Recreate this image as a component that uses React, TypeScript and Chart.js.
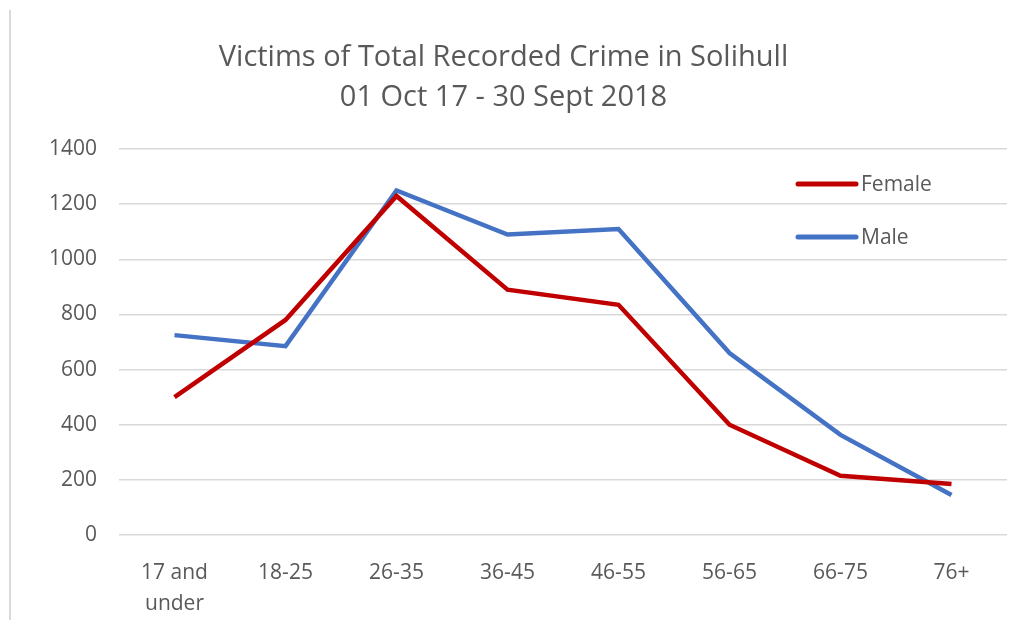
import React, { useEffect, useRef } from "react";
import { Chart, registerables } from "chart.js";

Chart.register(...registerables);

const categories: (string | string[])[] = [
  ["17 and", "under"],
  "18-25",
  "26-35",
  "36-45",
  "46-55",
  "56-65",
  "66-75",
  "76+",
];
const femaleValues = [500, 780, 1230, 890, 835, 400, 215, 185];
const maleValues = [725, 685, 1250, 1090, 1110, 660, 363, 145];
const seriesNames = ["Female", "Male"];
const seriesColors = ["#c00000", "#4472c4"];
const titleLines = ["Victims of Total Recorded Crime in Solihull", "01 Oct 17 - 30 Sept 2018"];

const FONT = "'Open Sans', 'DejaVu Sans', sans-serif";
const TEXT = "#595959";

const insideLegend = {
  id: "insideLegend",
  afterDatasetsDraw(chart: any) {
    const { ctx, chartArea } = chart;
    ctx.save();
    chart.data.datasets.forEach((ds: any, i: number) => {
      const y = chartArea.top + 35 + i * 53;
      const x0 = chartArea.right - 209;
      ctx.strokeStyle = ds.borderColor;
      ctx.lineWidth = 5;
      ctx.lineCap = "round";
      ctx.beginPath();
      ctx.moveTo(x0, y);
      ctx.lineTo(x0 + 58, y);
      ctx.stroke();
      ctx.fillStyle = TEXT;
      ctx.font = `21px ${FONT}`;
      ctx.textBaseline = "middle";
      ctx.textAlign = "left";
      ctx.fillText(ds.label, x0 + 63, y + 1);
    });
    ctx.restore();
  },
};

export default function App() {
  const ref = useRef<HTMLCanvasElement | null>(null);
  useEffect(() => {
    if (!ref.current) return;
    const chart = new Chart(ref.current, {
      type: "line",
      data: {
        labels: categories as any,
        datasets: [
          {
            label: seriesNames[0],
            data: femaleValues,
            borderColor: seriesColors[0],
            backgroundColor: seriesColors[0],
            borderWidth: 4.5,
            pointRadius: 0,
            tension: 0,
          },
          {
            label: seriesNames[1],
            data: maleValues,
            borderColor: seriesColors[1],
            backgroundColor: seriesColors[1],
            borderWidth: 4.5,
            pointRadius: 0,
            tension: 0,
          },
        ],
      },
      options: {
        animation: false,
        responsive: false,
        maintainAspectRatio: false,
        layout: { padding: { left: 0, right: 16, top: 38, bottom: 0 } },
        plugins: {
          legend: { display: false },
          tooltip: { enabled: false },
          title: {
            display: true,
            text: titleLines,
            color: TEXT,
            font: { family: FONT, size: 29, weight: "normal", lineHeight: 1.38 },
            padding: { top: 0, bottom: 31 },
          },
        },
        scales: {
          x: {
            offset: true,
            grid: { display: false, drawTicks: false },
            border: { display: false },
            ticks: {
              color: TEXT,
              font: { family: FONT, size: 21, lineHeight: 1.5 },
              padding: 22,
              maxRotation: 0,
              autoSkip: false,
            },
            afterFit(scale: any) {
              scale.height = 85;
            },
          },
          y: {
            min: 0,
            max: 1400,
            ticks: {
              stepSize: 200,
              color: TEXT,
              font: { family: FONT, size: 21 },
              padding: 22,
              callback: (v: any) => String(v),
            },
            grid: { color: "#d9d9d9", lineWidth: 1.5, drawTicks: false },
            border: { display: false },
            afterFit(scale: any) {
              scale.width = 119;
            },
          },
        },
      },
      plugins: [insideLegend],
    });
    return () => chart.destroy();
  }, []);
  return (
    <div style={{ position: "fixed", left: 0, top: 0, width: 1023, height: 620, background: "#fff" }}>
      <div style={{ position: "absolute", left: 9, top: 10, width: 2, height: 610, background: "#d9d9d9" }} />
      <canvas ref={ref} width={1023} height={620} style={{ position: "absolute", left: 0, top: 0 }} />
    </div>
  );
}
